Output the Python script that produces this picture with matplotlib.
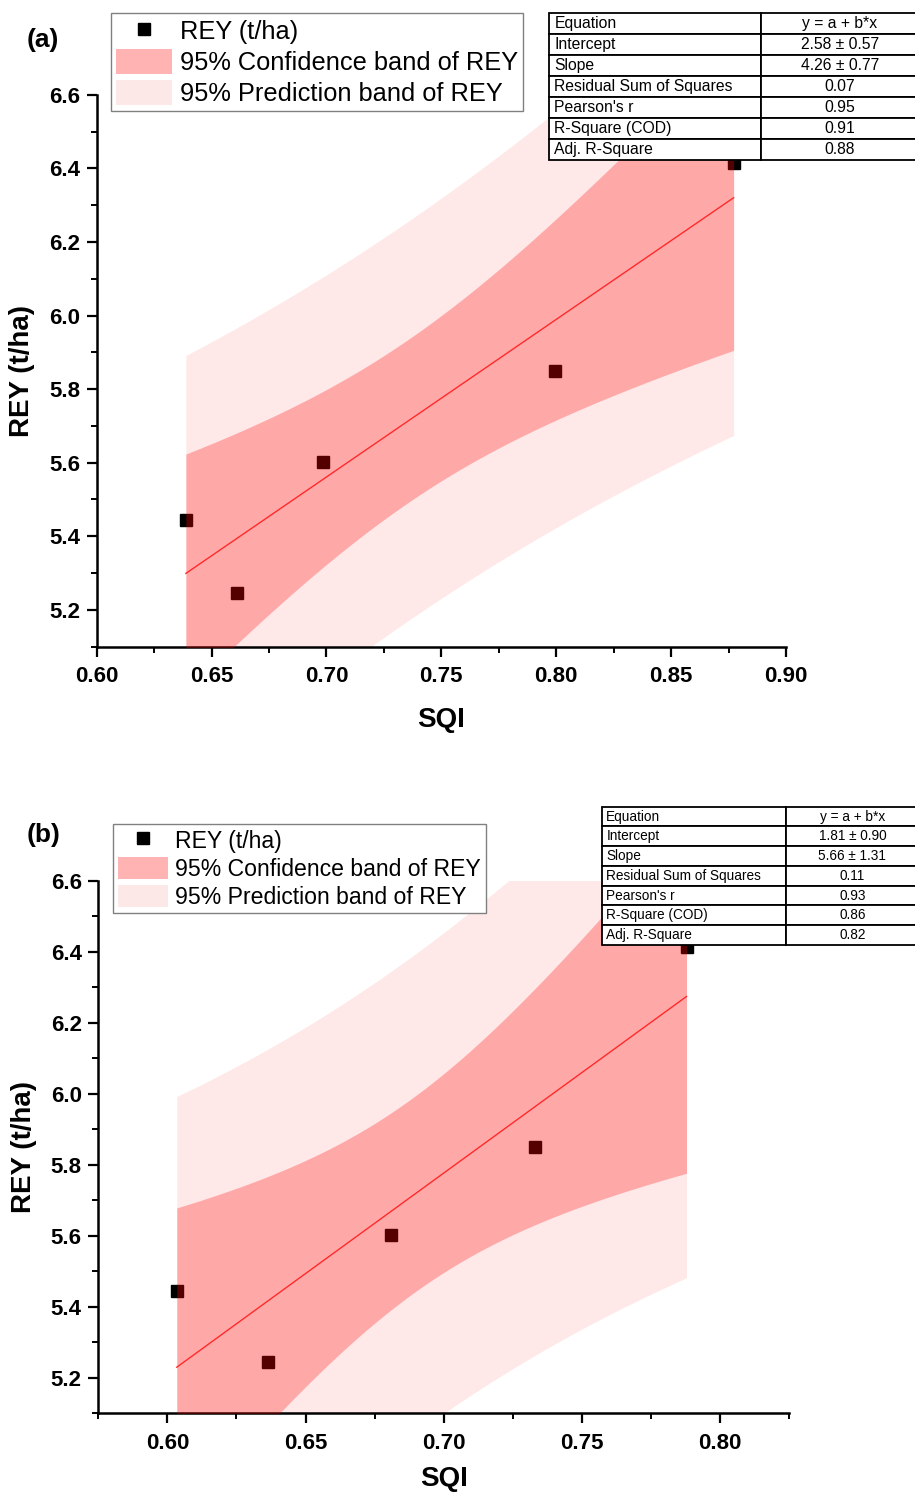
import numpy as np
import matplotlib
matplotlib.use('Agg')
import matplotlib.pyplot as plt
from matplotlib.lines import Line2D
from matplotlib.patches import Patch
from matplotlib.ticker import MultipleLocator

plt.rcParams['font.family'] = ['Liberation Sans', 'DejaVu Sans']

# Data
REY = [5.444, 5.245, 5.601, 5.850, 6.414]
SQI_A = [0.6388, 0.6609, 0.6985, 0.7993, 0.8772]
SQI_B = [0.6034, 0.6364, 0.6810, 0.7332, 0.7879]

STAT_NAMES = ["Equation", "Intercept", "Slope", "Residual Sum of Squares",
              "Pearson's r", "R-Square (COD)", "Adj. R-Square"]
STATS_A = ["y = a + b*x", "2.58 \u00b1 0.57", "4.26 \u00b1 0.77", "0.07", "0.95", "0.91", "0.88"]
STATS_B = ["y = a + b*x", "1.81 \u00b1 0.90", "5.66 \u00b1 1.31", "0.11", "0.93", "0.86", "0.82"]

LEGEND_LABELS = ["REY (t/ha)", "95% Confidence band of REY", "95% Prediction band of REY"]

T_975_DF3 = 3.182  # Student t, 95 % two sided, n - 2 = 3 dof

# Colours
RED = '#FF0000'
PRED_ALPHA = 0.09
CONF_ALPHA = 0.276

W, H = 915, 1493


def fig_rect(x0, y0, x1, y1):
    # pixel box (top-left origin) -> figure fraction rect
    return [x0 / W, 1 - y1 / H, (x1 - x0) / W, (y1 - y0) / H]


def bands(x, y, n_pts=200):
    x = np.asarray(x)
    y = np.asarray(y)
    n = len(x)
    b, a = np.polyfit(x, y, 1)
    s = np.sqrt(np.sum((y - (a + b * x)) ** 2) / (n - 2))
    sxx = np.sum((x - x.mean()) ** 2)
    xs = np.linspace(x.min(), x.max(), n_pts)
    yh = a + b * xs
    hc = T_975_DF3 * s * np.sqrt(1 / n + (xs - x.mean()) ** 2 / sxx)
    hp = T_975_DF3 * s * np.sqrt(1 + 1 / n + (xs - x.mean()) ** 2 / sxx)
    return xs, yh, hc, hp


def draw_panel(ax, x, xlim, leg_anchor, leg_fs, handle_h, xlabelpad):
    ax.plot(x, REY, 's', color='black', markersize=8.5, zorder=1)
    xs, yh, hc, hp = bands(x, REY)
    ax.fill_between(xs, yh - hp, yh + hp, color=RED, alpha=PRED_ALPHA, lw=0, zorder=2)
    ax.fill_between(xs, yh - hc, yh + hc, color=RED, alpha=CONF_ALPHA, lw=0, zorder=3)
    ax.plot(xs, yh, color='#FF2a2a', lw=1, zorder=4)

    ax.set_xlim(xlim)
    ax.set_ylim(5.1, 6.6)
    ax.xaxis.set_major_locator(MultipleLocator(0.05))
    ax.xaxis.set_minor_locator(MultipleLocator(0.025))
    ax.yaxis.set_minor_locator(MultipleLocator(0.1))
    ax.xaxis.set_major_formatter(matplotlib.ticker.FormatStrFormatter('%.2f'))
    ax.yaxis.set_major_formatter(matplotlib.ticker.FormatStrFormatter('%.1f'))
    ax.set_yticks([5.2, 5.4, 5.6, 5.8, 6.0, 6.2, 6.4, 6.6])
    for sp in ['top', 'right']:
        ax.spines[sp].set_visible(False)
    for sp in ['left', 'bottom']:
        ax.spines[sp].set_linewidth(1.8)
    ax.tick_params(which='major', direction='out', length=7, width=1.6, labelsize=16)
    ax.tick_params(which='minor', direction='out', length=4, width=1.4)
    ax.tick_params(axis='x', which='major', pad=7)
    ax.tick_params(axis='y', which='major', pad=5)
    for lab in ax.get_xticklabels() + ax.get_yticklabels():
        lab.set_fontweight('bold')
    ax.set_xlabel("SQI", fontsize=20, fontweight='bold', labelpad=xlabelpad)
    ax.set_ylabel("REY (t/ha)", fontsize=20, fontweight='bold', labelpad=10)

    handles = [Line2D([], [], marker='s', ls='none', color='black', markersize=8.5),
               Patch(facecolor='#FFB3B3', edgecolor='none'),
               Patch(facecolor='#FDE8E8', edgecolor='none')]
    leg = ax.legend(handles, LEGEND_LABELS, loc='upper left',
                    bbox_to_anchor=leg_anchor, bbox_transform=ax.figure.transFigure,
                    borderaxespad=0, fontsize=leg_fs, fancybox=False,
                    handlelength=2.2, handleheight=handle_h, handletextpad=0.3,
                    labelspacing=0.18, borderpad=0.2, framealpha=1)
    leg.get_frame().set_edgecolor('#808080')
    leg.get_frame().set_linewidth(1.0)


def draw_table(fig, rect, col1, stats, fs):
    tax = fig.add_axes(rect)
    tax.axis('off')
    rows = [[n, v] for n, v in zip(STAT_NAMES, stats)]
    tbl = tax.table(cellText=rows, colWidths=[col1, 1 - col1],
                    bbox=[0, 0, 1, 1], cellLoc='left')
    tbl.auto_set_font_size(False)
    tbl.set_fontsize(fs)
    for (r, c), cell in tbl.get_celld().items():
        cell.set_linewidth(1.3)
        cell.PAD = 0.025
        if c == 1:
            cell.get_text().set_horizontalalignment('center')


fig = plt.figure(figsize=(W / 100, H / 100), dpi=100)

# (a)
ax_a = fig.add_axes(fig_rect(96.7, 94.7, 786, 646.7))
draw_panel(ax_a, SQI_A, (0.60, 0.90), (111 / W, 1 - 13 / H), 18.3, 1.15, 14)
fig.text(43 / W, 1 - 40 / H, "(a)", fontsize=19, fontweight='bold', ha='center', va='center')
draw_table(fig, fig_rect(549, 13.3, 919, 160), 0.572, STATS_A, 11.3)

# (b)
ax_b = fig.add_axes(fig_rect(98.3, 880.8, 789, 1413.3))
draw_panel(ax_b, SQI_B, (0.575, 0.825), (113 / W, 1 - 824 / H), 16.6, 1.1, 9)
fig.text(44 / W, 1 - 835 / H, "(b)", fontsize=19, fontweight='bold', ha='center', va='center')
draw_table(fig, fig_rect(601.7, 806.7, 919, 945), 0.580, STATS_B, 9.8)

fig.savefig('out.png', dpi=100)
